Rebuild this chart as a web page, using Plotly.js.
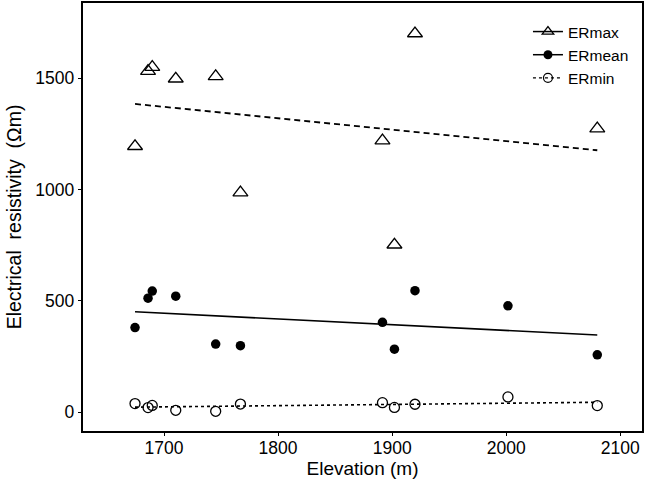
<!DOCTYPE html>
<html>
<head>
<meta charset="utf-8">
<script src="https://cdn.plot.ly/plotly-3.0.1.min.js"></script>
<style>html,body{margin:0;padding:0;background:#fff;}#chart{width:646px;height:479px;}</style>
</head>
<body>
<div id="chart"></div>
<script>
// Elevation (m) of sampling sites
const elevation = [1674.6, 1686, 1689.7, 1710.3, 1745.3, 1767, 1891.5, 1902, 1920, 2001.5, 2079.8];
// Electrical resistivity (Ωm)
const erMax  = [1194, 1531, 1549, 1497, 1508, 986, 1219, 752, 1700, null, 1273];
const erMean = [380, 512, 544, 521, 306, 299, 404, 283, 546, 478, 258];
const erMin  = [39, 21, 31, 9, 4.5, 37, 43, 22, 36, 69, 30];
// Linear trend endpoints
const trendX = [1674.6, 2079.8];
const trendMax  = [1384, 1176];
const trendMean = [451, 347];
const trendMin  = [23, 45];
const seriesNames = ['ERmax', 'ERmean', 'ERmin'];

const black = '#000';
const fontFam = 'Liberation Sans, Arial, sans-serif';
const traces = [
  {x: trendX, y: trendMax, mode: 'lines', line: {color: black, width: 1.8, dash: '6px,4px'}, showlegend: false, hoverinfo: 'skip'},
  {x: trendX, y: trendMean, mode: 'lines', line: {color: black, width: 1.6}, showlegend: false, hoverinfo: 'skip'},
  {x: trendX, y: trendMin, mode: 'lines', line: {color: black, width: 1.6, dash: 'dot'}, showlegend: false, hoverinfo: 'skip'},
  {x: elevation, y: erMax, mode: 'markers', marker: {symbol: 'triangle-up-open', size: 13, color: black, line: {width: 1.3}}, showlegend: false},
  {x: elevation, y: erMean, mode: 'markers', marker: {symbol: 'circle', size: 9.5, color: black}, showlegend: false},
  {x: elevation, y: erMin, mode: 'markers', marker: {symbol: 'circle-open', size: 10, color: black, line: {width: 1.3}}, showlegend: false},
  // legend keys
  {x: [null], y: [null], name: seriesNames[0], mode: 'lines+markers', line: {color: black, width: 1.5}, marker: {symbol: 'triangle-up-open', size: 10, color: black, line: {width: 1.3}}},
  {x: [null], y: [null], name: seriesNames[1], mode: 'lines+markers', line: {color: black, width: 1.5}, marker: {symbol: 'circle', size: 9, color: black}},
  {x: [null], y: [null], name: seriesNames[2], mode: 'lines+markers', line: {color: black, width: 1.2, dash: 'dot'}, marker: {symbol: 'circle-open', size: 9, color: black, line: {width: 1.2}}}
];

const axisCommon = {
  showgrid: false, zeroline: false, showline: true, mirror: true,
  linecolor: black, linewidth: 2.2, ticks: 'outside', ticklen: 3, tickwidth: 1, tickcolor: black,
  tickfont: {family: fontFam, size: 17.5, color: black}
};

const layout = {
  width: 646, height: 479,
  margin: {l: 83, r: 4, t: 3, b: 48},
  paper_bgcolor: '#fff', plot_bgcolor: '#fff',
  font: {family: fontFam, color: black},
  xaxis: Object.assign({}, axisCommon, {
    range: [1629, 2119], tickvals: [1700, 1800, 1900, 2000, 2100],
    ticklabelstandoff: -3,
    title: {text: 'Elevation (m)', font: {size: 19, color: black}, standoff: 0}
  }),
  yaxis: Object.assign({}, axisCommon, {
    range: [-84, 1837], tickvals: [0, 500, 1000, 1500],
    title: {text: 'Electrical  resistivity  (Ωm)', font: {size: 19.5, color: black}, standoff: 9}
  }),
  legend: {x: 0.796, xanchor: 'left', y: 0.972, yanchor: 'top', bgcolor: 'rgba(0,0,0,0)',
           font: {size: 15.5, color: black}, tracegroupgap: 0, itemwidth: 30},
  showlegend: true
};

Plotly.newPlot('chart', traces, layout, {displayModeBar: false, staticPlot: true});
</script>
</body>
</html>
